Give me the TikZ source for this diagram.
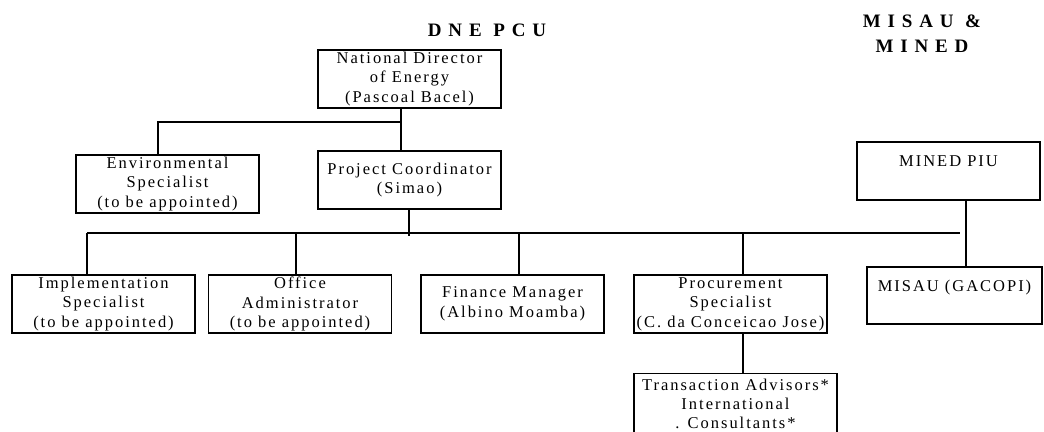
\documentclass[tikz,border=0pt]{standalone}
\usepackage{fontspec}
\setmainfont{Liberation Serif}[LetterSpace=12]
\newfontfamily\headfont{Liberation Serif}[LetterSpace=36]
\begin{document}
\begin{tikzpicture}[x=1pt,y=-1pt,line width=1.2pt,
  box/.style={draw, align=center, inner sep=1pt, minimum width=183pt, minimum height=58pt, font=\fontsize{16.5pt}{19.5pt}\selectfont},
  head/.style={align=center, font=\headfont\fontsize{19pt}{25pt}\selectfont\bfseries}]
\useasboundingbox (0,0) rectangle (1044,431);
\node[head] (dne) at (487,30) {DNE PCU};
\node[head] (ms) at (922,34) {MISAU \&\\MINED};
\node[box] (nd) at (409.5,79) {National Director\\of Energy\\(Pascoal Bacel)};
\node[box] (env) at (167.5,184) {Environmental\\Specialist\\(to be appointed)};
\node[box] (pc) at (409.5,180) {Project Coordinator\\(Simao)};
\node[box] (impl) at (103.5,304) {Implementation\\Specialist\\(to be appointed)};
\node[box] (office) at (300,304) {Office\\Administrator\\(to be appointed)};
\node[box] (fin) at (512.5,304) {Finance Manager\\(Albino Moamba)};
\node[box, minimum width=193pt] (proc) at (730.5,304) {Procurement\\Specialist\\(C. da Conceicao Jose)};
\node[box, minimum width=203pt, minimum height=61pt, anchor=north, font=\fontsize{16.5pt}{19pt}\selectfont] (trans) at (735.5,373) {Transaction Advisors*\\International\\. Consultants*};
\node[box] (mined) at (948.5,171) {MINED PIU\\~};
\node[box, minimum width=175pt, minimum height=57pt] (misau) at (954.5,295.5) {MISAU (GACOPI)\\~};
\coordinate (j1) at (401,122);
\coordinate (e1) at (158,122);
\coordinate (b0) at (87,233);
\coordinate (b1) at (960,233);
\coordinate (dpc) at (409,209);
\coordinate (doffice) at (296,233);
\coordinate (dfin) at (519,233);
\coordinate (dproc) at (743,233);
\coordinate (dmined) at (966,233);
\draw (nd.south -| j1) -- (j1 |- pc.north);
\draw (j1) -- (e1) -- (e1 |- env.north);
\draw (dpc) -- ++(0,27);
\draw (b0) -- (b1);
\draw (b0) -- (b0 |- impl.north);
\draw (doffice) -- (doffice |- office.north);
\draw (dfin) -- (dfin |- fin.north);
\draw (dproc) -- (dproc |- proc.north);
\draw (proc.south -| dproc) -- (dproc |- trans.north);
\draw (mined.south -| dmined) -- (dmined |- misau.north);
\end{tikzpicture}
\end{document}
